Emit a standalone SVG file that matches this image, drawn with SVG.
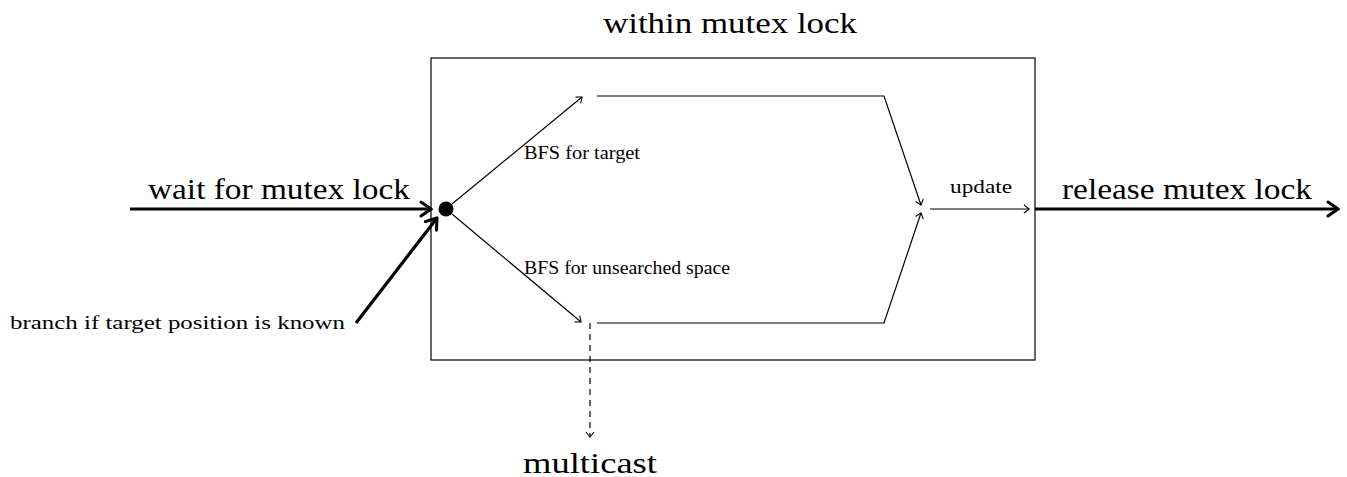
<svg xmlns="http://www.w3.org/2000/svg" width="1347" height="477" viewBox="0 0 1347 477">
  <style>
    text { font-family: "Liberation Serif", "DejaVu Serif", serif; fill: #000; }
    .big { font-size: 29px; }
    .small { font-size: 18px; }
    .thin { stroke: #000; stroke-width: 1.2; fill: none; }
    .thick { stroke: #000; stroke-width: 3.2; fill: none; }
    .dash { stroke: #000; stroke-width: 1.2; fill: none; stroke-dasharray: 6 5; }
  </style>
  <defs>
    <marker id="arrThin" viewBox="-6 -5 8 10" markerWidth="8" markerHeight="10" refX="0" refY="0" orient="auto" markerUnits="userSpaceOnUse">
      <path d="M-5,-4 Q-1,-1 0,0 Q-1,1 -5,4" stroke="#000" stroke-width="1.1" fill="none"/>
    </marker>
    <marker id="arrThick" viewBox="-12 -9 14 18" markerWidth="14" markerHeight="18" refX="0" refY="0" orient="auto" markerUnits="userSpaceOnUse">
      <path d="M-10,-7 Q-2,-1.5 0,0 Q-2,1.5 -10,7" stroke="#000" stroke-width="3" fill="none" stroke-linecap="round"/>
    </marker>
  </defs>
  <rect width="1347" height="477" fill="#fff"/>

  <g id="mutex-box">
    <rect x="431" y="58" width="604" height="302" fill="none" stroke="#000" stroke-width="1.2"/>
    <text class="big" x="730" y="33" text-anchor="middle" textLength="254" lengthAdjust="spacingAndGlyphs">within mutex lock</text>
  </g>

  <g id="junction">
    <circle cx="446" cy="209" r="7.5" fill="#000"/>
  </g>

  <g id="labels">
    <text class="big" x="148" y="199" textLength="262" lengthAdjust="spacingAndGlyphs">wait for mutex lock</text>
    <text class="big" x="1062" y="199" textLength="250" lengthAdjust="spacingAndGlyphs">release mutex lock</text>
    <text class="big" x="590" y="473" text-anchor="middle" textLength="134" lengthAdjust="spacingAndGlyphs">multicast</text>
    <text class="small" x="524" y="159" textLength="116" lengthAdjust="spacingAndGlyphs">BFS for target</text>
    <text class="small" x="524" y="274" textLength="206" lengthAdjust="spacingAndGlyphs">BFS for unsearched space</text>
    <text class="small" x="981" y="193" text-anchor="middle" textLength="62" lengthAdjust="spacingAndGlyphs">update</text>
    <text class="small" x="10" y="329" textLength="335" lengthAdjust="spacingAndGlyphs">branch if target position is known</text>
  </g>

  <g id="connectors">
    <line class="thick" x1="130" y1="209" x2="431" y2="209" marker-end="url(#arrThick)"/>
    <line class="thick" x1="356" y1="323" x2="437" y2="218" marker-end="url(#arrThick)"/>
    <line class="thick" x1="1035" y1="209" x2="1338" y2="209" marker-end="url(#arrThick)"/>
    <line class="thin" x1="452" y1="204" x2="582" y2="97" marker-end="url(#arrThin)"/>
    <line class="thin" x1="452" y1="214" x2="581" y2="322" marker-end="url(#arrThin)"/>
    <polyline class="thin" points="597,96 884,96 921,205" marker-end="url(#arrThin)"/>
    <polyline class="thin" points="597,323 884,323 921,213" marker-end="url(#arrThin)"/>
    <line class="thin" x1="930" y1="209" x2="1029" y2="209" marker-end="url(#arrThin)"/>
    <line class="dash" x1="590" y1="323" x2="590" y2="437" marker-end="url(#arrThin)"/>
  </g>
</svg>
